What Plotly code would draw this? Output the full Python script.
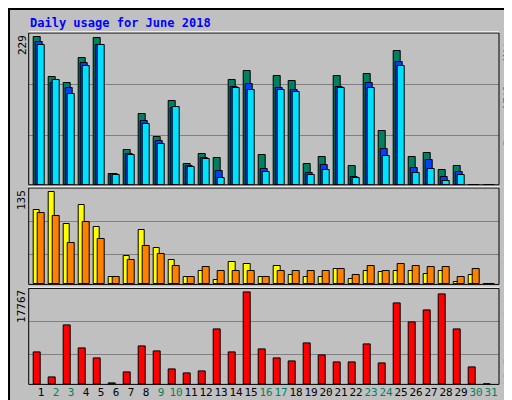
import plotly.graph_objects as go

days = list(range(1, 32))
hits  = [221,161,152,190,220,16,52,106,71,125,31,46,40,157,170,44,163,155,31,41,163,28,166,80,200,41,47,22,28,0,0]
files = [214,152,145,182,209,16,46,95,65,115,28,40,20,146,151,23,145,142,17,29,146,11,152,53,184,25,37,11,19,0,0]
pages = [209,157,136,178,209,14,44,91,61,116,26,38,10,145,142,19,142,139,14,22,145,10,145,43,178,17,23,5,14,0,0]
visits= [104,128,84,110,80,11,39,76,50,34,10,19,6,31,28,10,25,13,11,10,21,8,18,17,18,18,15,18,4,13,0]
sites = [99,95,57,87,63,10,34,54,42,25,10,24,18,18,18,11,18,18,18,18,21,13,25,18,28,25,24,24,11,21,0]
kbf   = [6155,1426,11340,6869,4925,120,2398,7258,6285,2981,2203,2592,10565,6155,17767,6739,4925,4537,7971,5638,4277,4277,7776,4083,15625,11924,14264,17330,10565,3370,0]
weekend = {2,3,9,10,16,17,23,24,30,31}
ticktext = [f'<span style="color:#008060">{d}</span>' if d in weekend else str(d) for d in days]

MONO = "DejaVu Sans Mono"
line = dict(color="black", width=1)
fig = go.Figure()
def bar(vals, off, w, color, xa, ya):
    fig.add_trace(go.Bar(x=[d + off for d in days], y=vals, width=w, marker=dict(color=color, line=line),
                         xaxis=xa, yaxis=ya, showlegend=False, hoverinfo="skip"))
bar(hits, -0.27, 0.49, "#008060", "x", "y")
bar(files, -0.12, 0.47, "#0040ff", "x", "y")
bar(pages, -0.01, 0.47, "#00e0ff", "x", "y")
bar(visits, -0.28, 0.45, "#ffff00", "x2", "y2")
bar(sites, -0.01, 0.45, "#ff8000", "x2", "y2")
bar(kbf, -0.27, 0.49, "#ff0000", "x3", "y3")

xr = [0.18, 31.53]
xd = [20.7/512, 491/512]
common_x = dict(range=xr, domain=xd, showgrid=False, zeroline=False, showline=False)
fig.update_layout(
    width=512, height=400, margin=dict(l=0, r=0, t=0, b=0),
    paper_bgcolor="#c0c0c0", plot_bgcolor="#c0c0c0", barmode="overlay", bargap=0,
    font=dict(family=MONO, size=11, color="black"),
    xaxis=dict(**common_x, anchor="y", showticklabels=False),
    xaxis2=dict(**common_x, anchor="y2", showticklabels=False),
    xaxis3=dict(**common_x, anchor="y3", tickmode="array", tickvals=days, ticktext=ticktext,
                ticks="", tickangle=0, tickfont=dict(family=MONO, size=11, color="black")),
    yaxis=dict(domain=[0.558, 0.9375], range=[0, 227.5], tickvals=[74, 151], showticklabels=False,
               gridcolor="#808080", gridwidth=1, zeroline=False),
    yaxis2=dict(domain=[0.309, 0.55], range=[0, 134.2], tickvals=[42, 88], showticklabels=False,
                gridcolor="#808080", gridwidth=1, zeroline=False),
    yaxis3=dict(domain=[0.059, 0.299], range=[0, 18533], tickvals=[5702, 12118], showticklabels=False,
                gridcolor="#808080", gridwidth=1, zeroline=False),
)
shapes = [
    dict(type="rect", xref="paper", yref="paper", x0=0.002, x1=0.998, y0=0.0025, y1=0.9975,
         line=dict(color="black", width=2)),
    dict(type="line", xref="paper", yref="paper", x0=0.006, x1=0.994, y0=0.01, y1=0.01,
         line=dict(color="#808080", width=4)),
    dict(type="line", xref="paper", yref="paper", x0=0.994, x1=0.994, y0=0.01, y1=0.99,
         line=dict(color="#808080", width=4)),
]
for d in [[0.558, 0.9375], [0.309, 0.55], [0.059, 0.299]]:
    shapes.append(dict(type="rect", xref="paper", yref="paper", x0=xd[0], x1=xd[1], y0=d[0], y1=d[1],
                       line=dict(color="black", width=1)))
    shapes.append(dict(type="line", xref="paper", yref="paper", x0=xd[0], x1=xd[1], y0=d[1]+0.003, y1=d[1]+0.003,
                       line=dict(color="white", width=1)))
fig.update_layout(shapes=shapes)

ann = [
    dict(text="<b>Daily usage for June 2018</b>", x=20/512, y=1-15/400, xanchor="left", yanchor="middle",
         font=dict(color="#0000ff", size=12, family=MONO)),
    dict(text="229", x=14/512, y=0.9375, xanchor="center", yanchor="top", textangle=-90),
    dict(text="135", x=14/512, y=0.55, xanchor="center", yanchor="top", textangle=-90),
    dict(text="17767", x=14/512, y=0.299, xanchor="center", yanchor="top", textangle=-90),
]
# right-side legend words: (text, color, pixel center y)
legend_words = [
    ("Hits", "#008060", 40), ("/", "#404040", 58), ("Files", "#0080ff", 80), ("/", "#404040", 101),
    ("Pages", "#00c0c0", 122),
    ("Visits", "#e0e000", 198), ("/", "#404040", 221), ("Sites", "#ff8000", 241),
    ("kB Out", "#00c000", 296), ("/", "#404040", 309), ("kB In", "#0080ff", 328), ("/", "#404040", 345),
    ("kB F", "#ff0000", 364),
]
for t, c, py in legend_words:
    ann.append(dict(text=t, x=500/512, y=1-py/400, xanchor="center", yanchor="middle", textangle=-90,
                    font=dict(color=c, size=11, family=MONO)))
for a in ann:
    a.setdefault("xref", "paper"); a.setdefault("yref", "paper"); a["showarrow"] = False
fig.update_layout(annotations=ann)
fig.write_html("out.html")
